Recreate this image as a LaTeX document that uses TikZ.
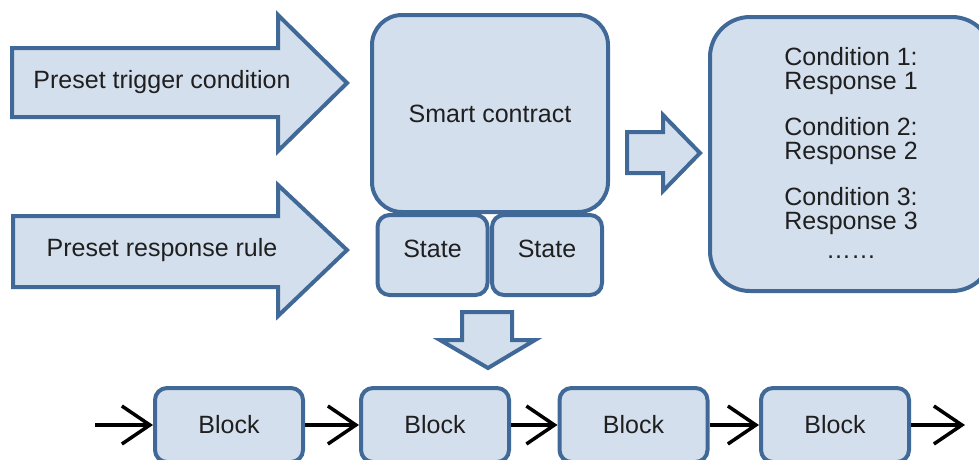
\documentclass[tikz,border=0pt]{standalone}
\usepackage{fontspec}
\setmainfont{Liberation Sans}
\usetikzlibrary{arrows.meta}
\definecolor{boxfill}{RGB}{212,223,238}
\definecolor{boxline}{RGB}{65,105,152}
\begin{document}
\begin{tikzpicture}[x=1pt,y=-1pt,
  shapebody/.style={draw=boxline,fill=boxfill,line width=4pt,line join=miter},
  txt/.style={font=\fontsize{25}{24}\selectfont,text=black!88,inner sep=0pt,align=center},
  blockbox/.style={shapebody,txt,rounded corners=12pt,minimum width=148pt,minimum height=74pt},
  statebox/.style={shapebody,rounded corners=12pt,minimum width=110pt,minimum height=80pt,inner sep=0pt},
  link/.style={draw=black,line width=3.5pt,-{Straight Barb[length=28pt,width=38pt,line width=3.5pt]}}
]
\useasboundingbox (0,0) rectangle (979,459);
\clip (0,0) rectangle (979,459);

% input arrows
\draw[shapebody] (12,48) -- (278,48) -- (278,15) -- (347,83) -- (278,151) -- (278,117) -- (12,117) -- cycle;
\node[txt] (trig) at (162,82) {Preset trigger condition};
\draw[shapebody] (13,216) -- (278,216) -- (278,185) -- (347,250) -- (278,316) -- (278,287) -- (13,287) -- cycle;
\node[txt] (resp) at (162,250) {Preset response rule};

% smart contract with its states
\node[shapebody,txt,rounded corners=30pt,minimum width=236pt,minimum height=197pt] (sc) at (490,113.5) {Smart contract};
\node[statebox] (st1) at (432.5,255) {};
\node[statebox] (st2) at (547,255) {};
\node[txt] (st1t) at (432.5,249) {State};
\node[txt] (st2t) at (547,249) {State};

% arrow towards the rule list
\draw[shapebody] (627,132) -- (663,132) -- (663,115) -- (700,153) -- (663,191) -- (663,173) -- (627,173) -- cycle;

% rule list
\draw[shapebody,rounded corners=40pt] (710,17) rectangle (992,291);
\node[txt] (r1) at (851,71) {Condition 1:\\Response 1};
\node[txt] (r2) at (851,141) {Condition 2:\\Response 2};
\node[txt] (r3) at (851,211) {Condition 3:\\Response 3};
\node[txt] (dots) at (851,257) {……};

% arrow down to the chain
\draw[shapebody] (462,312) -- (512,312) -- (512,340) -- (535,340) -- (488,368) -- (440,340) -- (462,340) -- cycle;

% block chain
\node[blockbox] (b1) at (229,425) {Block};
\node[blockbox] (b2) at (435,425) {Block};
\node[blockbox] (b3) at (633.5,425) {Block};
\node[blockbox] (b4) at (835,425) {Block};
\coordinate (in) at (95,425);
\coordinate (out) at (965,425);
\draw[link] (in) -- (b1);
\draw[link] (b1) -- (b2);
\draw[link] (b2) -- (b3);
\draw[link] (b3) -- (b4);
\draw[link] (b4) -- (out);
\end{tikzpicture}
\end{document}
